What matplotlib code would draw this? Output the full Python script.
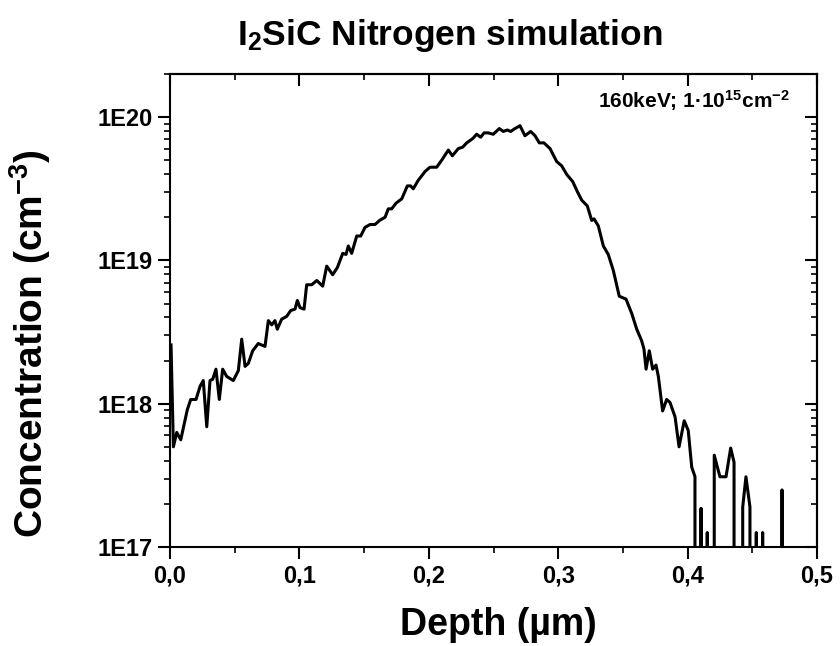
import math
import matplotlib
matplotlib.use("Agg")
import matplotlib.pyplot as plt
from matplotlib.ticker import FixedLocator, LogLocator, FuncFormatter, NullFormatter

# Depth (um) and N concentration (cm^-3); 0 = below the plotted range
depth = [0.0008, 0.0026, 0.0052, 0.0083, 0.0134, 0.0160, 0.0201, 0.0232, 0.0257, 0.0284,
         0.0309, 0.0330, 0.0355, 0.0381, 0.0407, 0.0438, 0.0489, 0.0528, 0.0554, 0.0580,
         0.0605, 0.0639, 0.0682, 0.0734, 0.0760, 0.0786, 0.0811, 0.0829, 0.0863, 0.0902,
         0.0933, 0.0966, 0.0984, 0.1005, 0.1036, 0.1056, 0.1095, 0.1134, 0.1180, 0.1211,
         0.1257, 0.1293, 0.1335, 0.1360, 0.1378, 0.1404, 0.1443, 0.1474, 0.1507, 0.1546,
         0.1584, 0.1623, 0.1662, 0.1687, 0.1713, 0.1747, 0.1791, 0.1834, 0.1860, 0.1880,
         0.1919, 0.1971, 0.2009, 0.2061, 0.2100, 0.2151, 0.2182, 0.2228, 0.2262, 0.2293,
         0.2339, 0.2370, 0.2401, 0.2427, 0.2460, 0.2498, 0.2545, 0.2576, 0.2607, 0.2633,
         0.2666, 0.2705, 0.2743, 0.2787, 0.2821, 0.2854, 0.2890, 0.2937, 0.2988, 0.3027,
         0.3066, 0.3112, 0.3148, 0.3182, 0.3225, 0.3259, 0.3277, 0.3310, 0.3349, 0.3387,
         0.3426, 0.3472, 0.3524, 0.3568, 0.3607, 0.3645, 0.3663, 0.3679, 0.3704, 0.3730,
         0.3756, 0.3774, 0.3807, 0.3838, 0.3864, 0.3903, 0.3934, 0.3974, 0.4005, 0.4032,
         0.4057, 0.4088, 0.4104, 0.4121, 0.4152, 0.4173, 0.4206, 0.4250, 0.4297, 0.4333,
         0.4359, 0.4366, 0.4413, 0.4426, 0.4451, 0.4482, 0.4490, 0.4521, 0.4531, 0.4544,
         0.4567, 0.4580, 0.4590, 0.4714, 0.4730, 0.4745]
conc = [2.57e18, 5.0e17, 6.3e17, 5.6e17, 9.1e17, 1.07e18, 1.07e18, 1.32e18, 1.45e18, 6.9e17,
        1.45e18, 1.48e18, 1.74e18, 1.07e18, 1.74e18, 1.55e18, 1.45e18, 1.70e18, 2.82e18, 1.82e18,
        1.91e18, 2.34e18, 2.63e18, 2.51e18, 3.80e18, 3.55e18, 3.80e18, 3.31e18, 3.89e18, 4.07e18,
        4.47e18, 4.57e18, 5.25e18, 4.68e18, 4.57e18, 6.76e18, 6.76e18, 7.24e18, 6.61e18, 9.12e18,
        7.94e18, 8.9e18, 1.12e19, 1.10e19, 1.26e19, 1.12e19, 1.48e19, 1.48e19, 1.70e19, 1.78e19,
        1.78e19, 1.91e19, 2.00e19, 2.29e19, 2.29e19, 2.51e19, 2.69e19, 3.31e19, 3.31e19, 3.16e19,
        3.63e19, 4.17e19, 4.47e19, 4.47e19, 5.01e19, 5.89e19, 5.37e19, 6.03e19, 6.17e19, 6.61e19,
        7.08e19, 7.59e19, 7.24e19, 7.76e19, 7.76e19, 7.59e19, 8.32e19, 7.94e19, 8.13e19, 7.94e19,
        8.32e19, 8.71e19, 7.41e19, 7.94e19, 7.41e19, 6.61e19, 6.61e19, 6.03e19, 4.90e19, 4.57e19,
        3.98e19, 3.55e19, 3.02e19, 2.63e19, 2.40e19, 1.90e19, 1.95e19, 1.74e19, 1.26e19, 1.10e19,
        8.5e18, 5.62e18, 5.37e18, 4.27e18, 3.31e18, 2.75e18, 2.40e18, 1.74e18, 2.34e18, 1.74e18,
        1.86e18, 1.55e18, 8.9e17, 1.07e18, 1.02e18, 8.1e17, 5.0e17, 7.6e17, 6.5e17, 3.6e17,
        3.1e17, 0, 1.86e17, 0, 1.26e17, 0, 4.37e17, 3.09e17, 3.09e17, 4.9e17,
        3.9e17, 0, 0, 1.9e17, 3.09e17, 1.9e17, 0, 0, 1.26e17, 0,
        0, 1.26e17, 0, 0, 2.5e17, 0]

x_ticks = [0.0, 0.1, 0.2, 0.3, 0.4, 0.5]
x_minor = [0.05, 0.15, 0.25, 0.35, 0.45]
y_ticks = [1e17, 1e18, 1e19, 1e20]

plt.rcParams['font.family'] = 'Liberation Sans'
plt.rcParams['font.weight'] = 'bold'
plt.rcParams['mathtext.fontset'] = 'custom'
plt.rcParams['mathtext.rm'] = 'Liberation Sans:bold'
plt.rcParams['mathtext.bf'] = 'Liberation Sans:bold'
plt.rcParams['mathtext.default'] = 'bf'

fig = plt.figure(figsize=(8.4, 6.46), dpi=100)
ax = fig.add_axes([0.2024, 0.1533, 0.7702, 0.7322])

ax.plot(depth, conc, color='black', lw=2.2)
ax.set_yscale('log')
ax.set_xlim(0, 0.5)
ax.set_ylim(1e17, 2e20)

for s in ax.spines.values():
    s.set_linewidth(1.5)

# bottom / left ticks point out
ax.xaxis.set_major_locator(FixedLocator(x_ticks))
ax.xaxis.set_minor_locator(FixedLocator(x_minor))
ax.xaxis.set_major_formatter(FuncFormatter(lambda v, p: f"{v:.1f}".replace('.', ',')))
ax.yaxis.set_major_locator(FixedLocator(y_ticks))
ax.yaxis.set_minor_locator(LogLocator(base=10, subs=range(2, 10)))
ax.yaxis.set_minor_formatter(NullFormatter())
ax.yaxis.set_major_formatter(FuncFormatter(lambda v, p: f"1E{int(round(math.log10(v)))}"))
ax.tick_params(which='major', direction='out', length=8.5, width=1.5, labelsize=17, pad=4)
ax.tick_params(which='minor', direction='out', length=4.5, width=1.2)

# top / right mirror ticks point in
top = ax.secondary_xaxis('top')
top.xaxis.set_major_locator(FixedLocator(x_ticks))
top.xaxis.set_minor_locator(FixedLocator(x_minor))
top.tick_params(which='major', direction='in', length=8.5, width=1.5, labeltop=False)
top.tick_params(which='minor', direction='in', length=4.5, width=1.2)
top.spines['top'].set_linewidth(1.5)

right = ax.secondary_yaxis('right')
right.yaxis.set_major_locator(FixedLocator(y_ticks))
right.yaxis.set_minor_locator(LogLocator(base=10, subs=range(2, 10)))
right.yaxis.set_minor_formatter(NullFormatter())
right.tick_params(which='major', direction='in', length=8.5, width=1.5, labelright=False)
right.tick_params(which='minor', direction='in', length=4.5, width=1.2)
right.spines['right'].set_linewidth(1.5)

fig.text(0.536, 0.945, r'I$_2$SiC Nitrogen simulation', ha='center', va='center',
         fontsize=25.5, fontweight='bold')
fig.text(0.593, 0.033, 'Depth (µm)', ha='center', va='center', fontsize=27, fontweight='bold')
fig.text(0.036, 0.468, r'Concentration (cm$^{-3}$)', ha='center', va='center',
         rotation=90, fontsize=28, fontweight='bold')
fig.text(0.940, 0.845, r'160keV; 1·10$^{15}$cm$^{-2}$', ha='right', va='center',
         fontsize=15, fontweight='bold')

fig.savefig('out.png', dpi=100)
